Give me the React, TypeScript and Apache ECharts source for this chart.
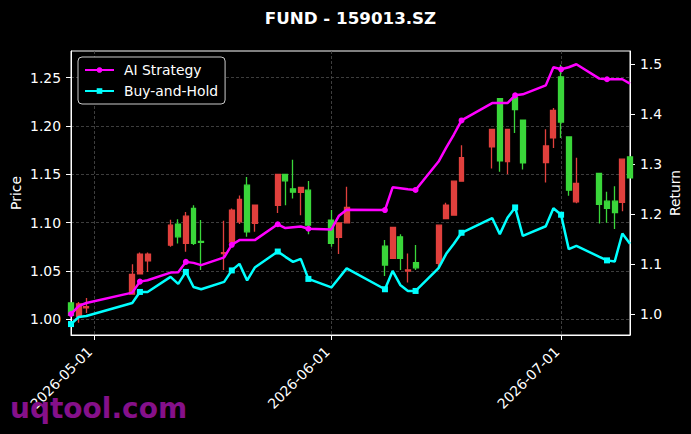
import React, { useEffect, useRef } from 'react';
import * as echarts from 'echarts';

// ---- data ----
const dates = [
  '2026-04-28', '2026-04-29', '2026-04-30', '2026-05-06', '2026-05-07', '2026-05-08',
  '2026-05-11', '2026-05-12', '2026-05-13', '2026-05-14', '2026-05-15', '2026-05-18',
  '2026-05-19', '2026-05-20', '2026-05-21', '2026-05-22', '2026-05-25', '2026-05-26',
  '2026-05-27', '2026-05-28', '2026-05-29', '2026-06-01', '2026-06-02', '2026-06-03',
  '2026-06-08', '2026-06-09', '2026-06-10', '2026-06-11', '2026-06-12', '2026-06-15',
  '2026-06-16', '2026-06-17', '2026-06-18', '2026-06-22', '2026-06-23', '2026-06-24',
  '2026-06-25', '2026-06-26', '2026-06-29', '2026-06-30', '2026-07-01', '2026-07-02',
  '2026-07-03', '2026-07-06', '2026-07-07', '2026-07-08', '2026-07-09', '2026-07-10',
];
const opens = [
  1.017, 1.003, 1.012, 1.026, 1.047, 1.0605,
  1.0767, 1.0985, 1.0785, 1.1147, 1.0805, 1.068,
  1.080, 1.1008, 1.1387, 1.0992, 1.118, 1.1498,
  1.135, 1.1312, 1.1336, 1.1026, 1.0847, 1.0998,
  1.0757, 1.063, 1.0853, 1.050, 1.0585, 1.058,
  1.1043, 1.1077, 1.1429, 1.1783, 1.2283, 1.163,
  1.2293, 1.2059, 1.1622, 1.1876, 1.2506, 1.1886,
  1.1215, 1.1508, 1.1222, 1.1222, 1.1209, 1.168,
];
const closes = [
  1.004, 1.016, 1.013, 1.0465, 1.0675, 1.0675,
  1.0974, 1.0853, 1.1067, 1.0785, 1.0795, 1.069,
  1.113, 1.124, 1.0905, 1.118, 1.1498, 1.1432,
  1.1315, 1.1364, 1.0974, 1.0785, 1.0998, 1.1157,
  1.0561, 1.095, 1.063, 1.051, 1.0533, 1.0974,
  1.118, 1.1429, 1.1673, 1.1963, 1.1638, 1.1963,
  1.2169, 1.1618, 1.1793, 1.2162, 1.2041, 1.1336,
  1.1405, 1.1188, 1.1147, 1.1105, 1.1656, 1.1464,
];
const lows = [
  1.004, 0.9965, 1.0065, 1.026, 1.047, 1.049,
  1.075, 1.0785, 1.070, 1.0768, 1.051, 1.051,
  1.075, 1.0985, 1.0853, 1.0905, 1.110, 1.118,
  1.125, 1.1077, 1.088, 1.075, 1.0675, 1.0998,
  1.0447, 1.063, 1.051, 1.038, 1.051, 1.0527,
  1.1043, 1.1077, 1.1429, 1.156, 1.1525, 1.150,
  1.1928, 1.155, 1.1415, 1.1773, 1.1876, 1.1277,
  1.120, 1.099, 1.0998, 1.0933, 1.1119, 1.1464,
];
const highs = [
  1.017, 1.018, 1.022, 1.057, 1.069, 1.069,
  1.103, 1.1036, 1.111, 1.118, 1.1026, 1.102,
  1.1147, 1.128, 1.1473, 1.118, 1.1498, 1.1498,
  1.165, 1.1364, 1.143, 1.113, 1.0998, 1.137,
  1.082, 1.095, 1.088, 1.068, 1.077, 1.0974,
  1.1205, 1.1429, 1.18, 1.1963, 1.2283, 1.1963,
  1.2293, 1.2059, 1.1966, 1.2186, 1.2634, 1.1886,
  1.167, 1.1508, 1.132, 1.1377, 1.1656, 1.168,
];
const aiStrategy = [
  1.000, 1.016, 1.022, 1.0428, 1.0649, 1.0677,
  1.0829, 1.0837, 1.1044, 1.1024, 1.0978, 1.1135,
  1.1386, 1.148, 1.148, 1.148, 1.1797, 1.1721,
  1.1737, 1.1751, 1.1707, 1.1693, 1.1968, 1.2088,
  1.2082, 1.2536, 1.252, 1.250, 1.2484, 1.3052,
  1.3333, 1.3594, 1.3876, 1.4223, 1.4223, 1.4223,
  1.4378, 1.4398, 1.4578, 1.494, 1.490, 1.494,
  1.500, 1.4713, 1.470, 1.470, 1.470, 1.4612,
];
const buyHold = [
  0.9799, 0.994, 0.996, 1.0221, 1.0442, 1.0442,
  1.0743, 1.0602, 1.0843, 1.0542, 1.0496, 1.0643,
  1.0873, 1.1004, 1.0673, 1.093, 1.1251, 1.1145,
  1.1044, 1.1104, 1.0703, 1.0532, 1.0723, 1.0914,
  1.0496, 1.0863, 1.0582, 1.0462, 1.0462, 1.0918,
  1.1205, 1.1406, 1.1627, 1.1922, 1.160, 1.1928,
  1.2134, 1.1566, 1.1757, 1.2118, 1.1988, 1.1299,
  1.1365, 1.1145, 1.1074, 1.105, 1.1612, 1.1406,
];
const priceTicks = [1.0, 1.05, 1.1, 1.15, 1.2, 1.25];
const returnTicks = [1.0, 1.1, 1.2, 1.3, 1.4, 1.5];
const dateTicks = ['2026-05-01', '2026-06-01', '2026-07-01'];

const FONT = 'DejaVu Sans';
const RED = '#e0403d';
const GREEN = '#3ad63a';
const MAGENTA = '#ff00ff';
const CYAN = '#00ffff';

function toTime(s: string): number {
  const [y, m, d] = s.split('-').map(Number);
  return new Date(y, m - 1, d).getTime();
}
function fmtDate(v: number): string {
  const d = new Date(v);
  const p = (n: number) => (n < 10 ? '0' + n : '' + n);
  return `${d.getFullYear()}-${p(d.getMonth() + 1)}-${p(d.getDate())}`;
}

export default function App() {
  const ref = useRef<HTMLDivElement>(null);
  useEffect(() => {
    if (!ref.current) return;
    const chart = echarts.init(ref.current, null, { renderer: 'svg' });
    const times = dates.map(toTime);
    const dateTickTimes = dateTicks.map(toTime);
    const gridLine = { color: '#4d4d4d', type: [3, 2] as any, width: 0.8 };
    const option: any = {
      animation: false,
      backgroundColor: '#000',
      textStyle: { fontFamily: FONT },
      grid: { left: 71, right: 61, top: 51, bottom: 99, show: true, borderColor: '#fff', borderWidth: 1, backgroundColor: 'transparent', containLabel: false, outerBoundsMode: 'none' },
      legend: {
        orient: 'vertical', left: 78, top: 57, padding: [6, 7, 6, 6], itemGap: 7,
        itemWidth: 29, itemHeight: 7,
        backgroundColor: '#000', borderColor: '#cccccc', borderWidth: 1, borderRadius: 4,
        textStyle: { color: '#fff', fontSize: 13.9, fontFamily: FONT, padding: [0, 0, 0, 5] },
        data: ['AI Strategy', 'Buy-and-Hold'],
      },
      xAxis: {
        type: 'value', min: times[0], max: times[times.length - 1], scale: true,
        axisLine: { show: true, onZero: false, lineStyle: { color: '#fff', width: 1 } },
        axisTick: { show: true, length: 5, lineStyle: { color: '#fff', width: 1 }, customValues: dateTickTimes },
        axisLabel: { customValues: dateTickTimes, rotate: 45, color: '#fff', fontSize: 13.9, fontFamily: FONT, margin: 10, padding: [0, 6, 0, 0], formatter: (v: number) => fmtDate(v), hideOverlap: false },
        splitLine: { show: true, lineStyle: gridLine },
      },
      yAxis: [
        {
          type: 'value', position: 'left', min: 0.9838, max: 1.2775, scale: true,
          name: 'Price', nameLocation: 'middle', nameGap: 48, nameMoveOverlap: false,
          nameTextStyle: { color: '#fff', fontSize: 13.9, fontFamily: FONT },
          axisLine: { show: true, onZero: false, lineStyle: { color: '#fff', width: 1 } },
          axisTick: { show: true, length: 5, lineStyle: { color: '#fff', width: 1 }, customValues: priceTicks },
          axisLabel: { customValues: priceTicks, color: '#fff', fontSize: 13.9, fontFamily: FONT, margin: 10, formatter: (v: number) => v.toFixed(2) },
          splitLine: { show: true, lineStyle: gridLine },
        },
        {
          type: 'value', position: 'right', min: 0.958, max: 1.5266, scale: true,
          name: 'Return', nameLocation: 'middle', nameGap: 38, nameMoveOverlap: false,
          nameTextStyle: { color: '#fff', fontSize: 13.9, fontFamily: FONT },
          axisLine: { show: true, onZero: false, lineStyle: { color: '#fff', width: 1 } },
          axisTick: { show: true, length: 5, lineStyle: { color: '#fff', width: 1 }, customValues: returnTicks },
          axisLabel: { customValues: returnTicks, color: '#fff', fontSize: 13.9, fontFamily: FONT, margin: 10, formatter: (v: number) => v.toFixed(1) },
          splitLine: { show: false },
        },
      ],
      series: [
        {
          type: 'candlestick', name: 'Price', xAxisIndex: 0, yAxisIndex: 0,
          dimensions: ['date', 'open', 'close', 'lowest', 'highest'],
          encode: { x: 'date', y: ['open', 'close', 'lowest', 'highest'] },
          data: dates.map((_, i) => [times[i], opens[i], closes[i], lows[i], highs[i]]),
          barWidth: 5.4,
          itemStyle: { color: RED, color0: GREEN, borderColor: RED, borderColor0: GREEN, borderColorDoji: RED, borderWidth: 1.3 },
          z: 2,
        },
        {
          type: 'line', name: 'AI Strategy', yAxisIndex: 1,
          data: aiStrategy.map((v, i) => ({ value: [times[i], v], symbol: i % 4 === 0 ? 'circle' : 'none' })),
          symbol: 'circle', symbolSize: 6, showAllSymbol: true,
          lineStyle: { color: MAGENTA, width: 2.5 }, itemStyle: { color: MAGENTA },
          z: 5,
        },
        {
          type: 'line', name: 'Buy-and-Hold', yAxisIndex: 1,
          data: buyHold.map((v, i) => ({ value: [times[i], v], symbol: i % 4 === 0 ? 'rect' : 'none' })),
          symbol: 'rect', symbolSize: 6, showAllSymbol: true,
          lineStyle: { color: CYAN, width: 2.5 }, itemStyle: { color: CYAN },
          z: 5,
        },
      ],
      graphic: [
        {
          type: 'text', x: 350.5, y: 18, z: 100,
          style: { text: 'FUND - 159013.SZ', fill: '#fff', font: `bold 16.7px "${FONT}"`, align: 'center', verticalAlign: 'middle', textAlign: 'center', textVerticalAlign: 'middle' },
        },
        {
          type: 'text', x: 10, y: 408, z: 100,
          style: { text: 'uqtool.com', fill: '#85108a', font: `bold 28px "${FONT}"`, align: 'left', verticalAlign: 'middle', textAlign: 'left', textVerticalAlign: 'middle' },
        },
      ],
    };
    chart.setOption(option);
    return () => chart.dispose();
  }, []);
  return (
    <div
      ref={ref}
      style={{ position: 'fixed', left: 0, top: 0, width: 691, height: 434, background: '#000' }}
    />
  );
}
